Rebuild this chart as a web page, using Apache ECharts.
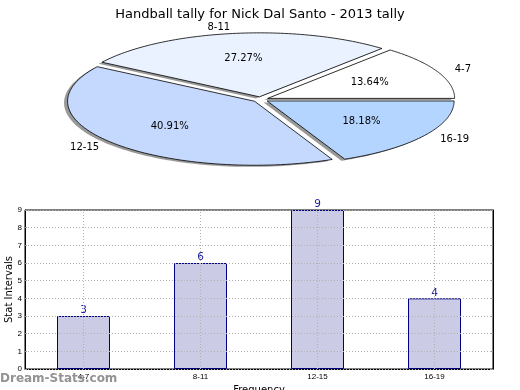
<!DOCTYPE html>
<html>
<head>
<meta charset="utf-8">
<script src="https://cdn.jsdelivr.net/npm/echarts@6/dist/echarts.min.js"></script>
<style>
html,body{margin:0;padding:0;background:#fff;}
#main{width:520px;height:390px;}
</style>
</head>
<body>
<div id="main"></div>
<script>
const chartTitle = 'Handball tally for Nick Dal Santo - 2013 tally';
const categories = ['4-7', '8-11', '12-15', '16-19'];
const counts = [3, 6, 9, 4];
const yTicks = [0, 1, 2, 3, 4, 5, 6, 7, 8, 9];
const xAxisName = 'Frequency';
const yAxisName = 'Stat Intervals';
const watermark = 'Dream-Stats.com';

const pieFill = ['#ffffff', '#eaf1ff', '#c5d8fd', '#b4d5ff'];
const PIE = { cx: 260.5, cy: 99.5, rx: 187, ry: 64, explode: 0.042 };
const total = counts.reduce((a, b) => a + b, 0);
const cum = [0];
counts.forEach((v, i) => cum.push(cum[i] + v));

function wedge(i, val, dx, dy) {
  const a0 = cum[i] / total * 2 * Math.PI;
  const a1 = a0 + val / total * 2 * Math.PI;
  const mid = (a0 + a1) / 2;
  const ex = PIE.cx + PIE.explode * PIE.rx * Math.cos(mid);
  const ey = PIE.cy - PIE.explode * PIE.ry * Math.sin(mid);
  const pts = [[ex + dx, ey + dy]];
  const n = 80;
  for (let k = 0; k <= n; k++) {
    const a = a0 + (a1 - a0) * k / n;
    pts.push([ex + PIE.rx * Math.cos(a) + dx, ey - PIE.ry * Math.sin(a) + dy]);
  }
  return { pts, mid, ex, ey };
}

const chart = echarts.init(document.getElementById('main'), null, { renderer: 'canvas' });
const option = {
  animation: false,
  backgroundColor: '#ffffff',
  title: {
    text: chartTitle,
    left: 'center',
    top: 3,
    textStyle: { fontFamily: 'DejaVu Sans', fontSize: 13, fontWeight: 'normal', color: '#000' }
  },
  graphic: [{
    type: 'text', left: 0, top: 373, z: 100,
    style: { text: watermark, font: 'bold 12px "DejaVu Sans"', fill: '#939393' }
  }],
  grid: { left: 25, right: 27, top: 210, bottom: 21, outerBoundsMode: 'none', containLabel: false,
    show: true, borderColor: '#000', borderWidth: 1, backgroundColor: 'transparent' },
  xAxis: {
    type: 'category',
    data: categories,
    boundaryGap: true,
    name: xAxisName,
    nameLocation: 'middle',
    nameGap: 16,
    nameMoveOverlap: false,
    nameTextStyle: { fontFamily: 'DejaVu Sans', fontSize: 10, color: '#000', verticalAlign: 'top' },
    axisLine: { show: true, lineStyle: { color: '#000', width: 1 } },
    axisTick: { show: true, alignWithLabel: true, inside: true, length: 3, lineStyle: { color: '#999' } },
    axisLabel: { fontFamily: '"Liberation Sans Narrow", "Liberation Sans"', fontSize: 8, color: '#000', margin: 4 },
    splitLine: { show: false }
  },
  yAxis: [{
    type: 'value',
    min: 0, max: 9, interval: 1,
    z: 5,
    name: yAxisName,
    nameLocation: 'middle',
    nameGap: 16,
    nameMoveOverlap: false,
    nameTextStyle: { fontFamily: 'DejaVu Sans', fontSize: 10, color: '#000', verticalAlign: 'middle' },
    axisLine: { show: true, lineStyle: { color: '#000' } },
    axisTick: { show: true, inside: true, length: 2, lineStyle: { color: '#999' } },
    axisLabel: { fontFamily: '"Liberation Sans Narrow", "Liberation Sans"', fontSize: 8, color: '#000', margin: 3,
      formatter: v => yTicks.includes(v) ? String(v) : '' },
    splitLine: { show: true, lineStyle: { color: '#b0b0b0', type: [1, 2], width: 1 } }
  }, {
    type: 'value', position: 'right',
    min: 0, max: 9, interval: 1,
    axisLine: { show: true, lineStyle: { color: '#000' } },
    axisTick: { show: true, inside: true, length: 2, lineStyle: { color: '#999' } },
    axisLabel: { show: false },
    splitLine: { show: false }
  }],
  series: [
    {
      type: 'custom',
      coordinateSystem: 'none',
      z: 1,
      silent: true,
      data: counts,
      renderItem: function (params, api) {
        const i = params.dataIndex;
        const w = wedge(i, api.value(0), -3.5, 1.6);
        return { type: 'polygon', shape: { points: w.pts }, style: { fill: 'rgba(70,70,70,0.55)' } };
      }
    },
    {
      type: 'custom',
      coordinateSystem: 'none',
      z: 2,
      silent: true,
      data: counts,
      renderItem: function (params, api) {
        const i = params.dataIndex;
        const val = api.value(0);
        const w = wedge(i, val, 0, 0);
        const c = Math.cos(w.mid), s = Math.sin(w.mid);
        const lx = w.ex + 1.1 * PIE.rx * c;
        const ly = w.ey - 1.1 * PIE.ry * s;
        const px = w.ex + 0.6 * PIE.rx * c;
        const py = w.ey - 0.6 * PIE.ry * s;
        const pct = (val / total * 100).toFixed(2) + '%';
        return {
          type: 'group',
          children: [
            { type: 'polygon', shape: { points: w.pts }, style: { fill: pieFill[i], stroke: '#000', lineWidth: 0.8 } },
            { type: 'text', x: lx, y: ly, style: { text: categories[i], font: '10px "DejaVu Sans"', fill: '#000',
                align: c >= 0 ? 'left' : 'right', verticalAlign: 'middle' } },
            { type: 'text', x: px, y: py, style: { text: pct, font: '10px "DejaVu Sans"', fill: '#000',
                align: 'center', verticalAlign: 'middle' } }
          ]
        };
      }
    },
    {
      type: 'bar',
      data: counts,
      barWidth: 53,
      z: 2,
      itemStyle: { color: '#cbcbe6', borderColor: '#000080', borderWidth: 1 },
      label: { show: true, position: 'top', distance: 0, color: '#1c1c9c', fontFamily: 'DejaVu Sans', fontSize: 10.5 },
      markLine: {
        silent: true,
        symbol: 'none',
        label: { show: false },
        z: 6,
        lineStyle: { color: '#b0b0b0', type: [1, 2], width: 1 },
        data: categories.map(c => ({ xAxis: c }))
      }
    }
  ]
};
chart.setOption(option);
</script>
</body>
</html>
